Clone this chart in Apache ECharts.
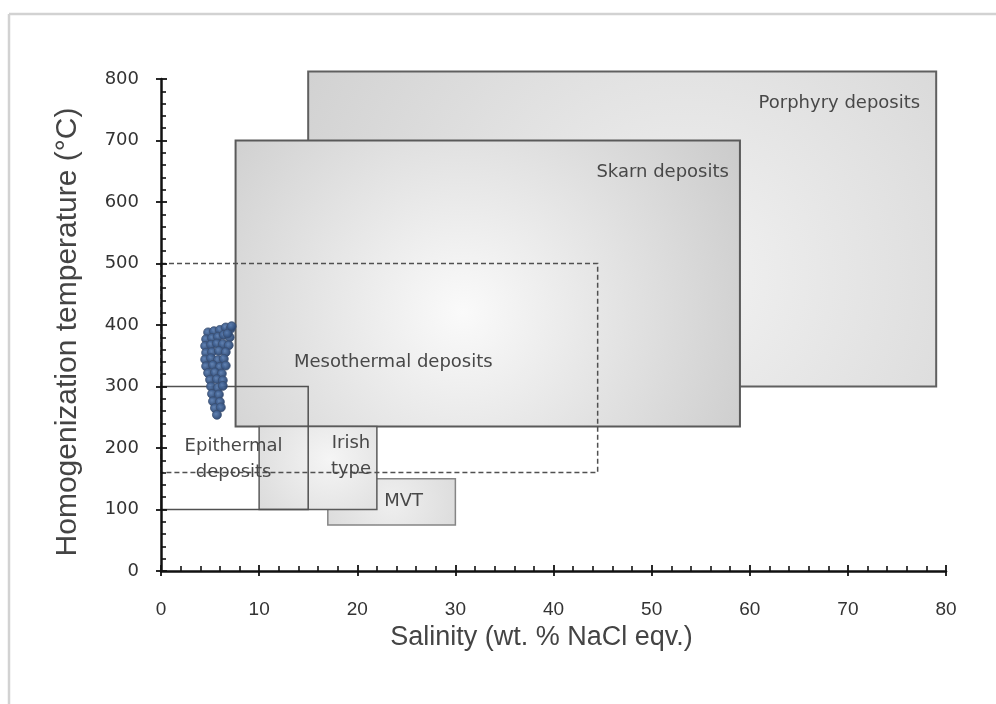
<!DOCTYPE html>
<html>
<head>
<meta charset="utf-8">
<script src="https://cdn.jsdelivr.net/npm/echarts@6/dist/echarts.min.js"></script>
<style>
html,body{margin:0;padding:0;background:#fff;}
#chart{width:996px;height:704px;}
</style>
</head>
<body>
<div id="chart"></div>
<script>
// ---- data ----
const boxNames    = ['Porphyry deposits', 'Skarn deposits', 'MVT', 'Irish\ntype', 'Mesothermal deposits', 'Epithermal\ndeposits'];
const boxSalMin   = [15, 7.6, 17, 10, 0, 0];
const boxSalMax   = [79, 59, 30, 22, 44.5, 15];
const boxTempMin  = [300, 235, 75, 100, 160, 100];
const boxTempMax  = [812, 700, 150, 235, 500, 300];

const inclSalinity = [4.8,5.4,6.0,6.6,7.1, 4.6,5.2,5.8,6.4,7.0, 4.5,5.1,5.7,6.3,6.9,
                      4.6,5.2,5.9,6.6, 4.5,5.1,5.8,6.4, 4.6,5.3,6.0,6.6, 4.8,5.5,6.2,
                      5.0,5.7,6.3, 5.1,5.8,6.3, 5.2,5.9, 5.3,6.0, 5.5,6.1, 5.7, 6.8, 7.2];
const inclTemp     = [388,390,392,396,394, 377,379,381,384,380, 366,368,370,369,367,
                      355,356,358,356, 344,346,343,345, 333,335,332,334, 322,323,321,
                      311,312,310, 300,298,301, 288,287, 276,275, 265,266, 254, 386, 398];

const xMin = 0, xMax = 80, xStep = 10;
const yMin = 0, yMax = 800, yStep = 100;

// ---- styles ----
function grad(cx, cy, r, c0, c1) {
  return new echarts.graphic.RadialGradient(cx, cy, r, [
    {offset: 0, color: c0}, {offset: 1, color: c1}
  ]);
}
const boxStyles = [
  {fill: grad(0.6, 0.65, 1.6, '#f2f2f2', '#cccccc'), stroke: '#606060', lw: 2, pos: 'insideTopRight', dist: 17, off: [0, 3]},
  {fill: grad(0.45, 0.6, 1.15, '#fafafa', '#cacaca'), stroke: '#5a5a5a', lw: 2, pos: 'insideTopRight', dist: 12, off: [0, 8]},
  {fill: grad(0.5, 0.5, 2.2, '#efefef', '#d2d2d2'), stroke: '#858585', lw: 1.5, pos: 'inside', off: [12, 0]},
  {fill: grad(0.6, 0.4, 1.3, '#f5f5f5', '#d4d4d4'), stroke: '#5a5a5a', lw: 1.5, pos: 'inside', off: [33, -12]},
  {fill: 'rgba(0,0,0,0)', stroke: '#505050', lw: 1.5, dash: [5, 3], pos: 'inside', off: [14, -6]},
  {fill: 'rgba(0,0,0,0)', stroke: '#505050', lw: 1.5, pos: 'inside', off: [-1, 11]}
];

const boxData = boxNames.map((n, i) => [boxSalMin[i], boxSalMax[i], boxTempMin[i], boxTempMax[i]]);
const pointData = inclSalinity.map((s, i) => [s, inclTemp[i]]);

function renderBox(params, api) {
  const i = params.dataIndex;
  const p1 = api.coord([api.value(0), api.value(3)]);
  const p2 = api.coord([api.value(1), api.value(2)]);
  const st = boxStyles[i];
  return {
    type: 'rect',
    shape: {x: p1[0], y: p1[1], width: p2[0] - p1[0], height: p2[1] - p1[1]},
    style: {fill: st.fill, stroke: st.stroke, lineWidth: st.lw, lineDash: st.dash || null},
    textContent: {
      style: {
        text: boxNames[i],
        fontFamily: 'DejaVu Sans',
        fontSize: 18,
        fill: '#484848',
        lineHeight: 26
      }
    },
    textConfig: {position: st.pos, distance: st.dist || 0, offset: st.off}
  };
}

const axisColor = '#111';
const chart = echarts.init(document.getElementById('chart'), null, {renderer: 'canvas'});
chart.setOption({
  backgroundColor: '#ffffff',
  animation: false,
  grid: {left: 161, right: 50, top: 79, bottom: 133, containLabel: false},
  graphic: [
    {type: 'line', shape: {x1: 9, y1: 14, x2: 996, y2: 14}, style: {stroke: '#d2d2d2', lineWidth: 2.5}, z: 0},
    {type: 'line', shape: {x1: 9, y1: 14, x2: 9, y2: 704}, style: {stroke: '#d2d2d2', lineWidth: 2.5}, z: 0}
  ],
  xAxis: [
    {
      type: 'value', min: xMin, max: xMax, interval: xStep, z: 5,
      name: 'Salinity (wt. % NaCl eqv.)', nameLocation: 'middle', nameGap: 35,
      nameTextStyle: {fontFamily: 'Liberation Sans', fontSize: 27, color: '#444', padding: [0, 24, 0, 0]},
      axisLine: {show: true, onZero: false, lineStyle: {color: axisColor, width: 2.5}},
      axisTick: {show: true, inside: true, length: 6, lineStyle: {color: axisColor, width: 1.8}},
      minorTick: {show: true, splitNumber: 5, length: 5, lineStyle: {color: axisColor, width: 1.6}},
      axisLabel: {margin: 29, fontFamily: 'Liberation Sans', fontSize: 19, color: '#333'},
      splitLine: {show: false}
    },
    {
      type: 'value', min: xMin, max: xMax, interval: xStep, position: 'bottom', z: 5,
      axisLine: {show: false},
      axisTick: {show: true, inside: false, length: 5, lineStyle: {color: axisColor, width: 1.8}},
      axisLabel: {show: false}, splitLine: {show: false}
    }
  ],
  yAxis: [
    {
      type: 'value', min: yMin, max: yMax, interval: yStep, z: 5,
      name: 'Homogenization temperature (°C)', nameLocation: 'middle', nameGap: 78, nameRotate: 90,
      nameTextStyle: {fontFamily: 'Liberation Sans', fontSize: 30, color: '#444', padding: [0, 14, 0, 0]},
      axisLine: {show: true, onZero: false, lineStyle: {color: axisColor, width: 2.5}},
      axisTick: {show: true, inside: true, length: 6, lineStyle: {color: axisColor, width: 1.8}},
      minorTick: {show: true, splitNumber: 5, length: 5, lineStyle: {color: axisColor, width: 1.6}},
      axisLabel: {margin: 22, fontFamily: 'DejaVu Sans', fontSize: 18, color: '#333'},
      splitLine: {show: false}
    },
    {
      type: 'value', min: yMin, max: yMax, interval: yStep, position: 'left', z: 5,
      axisLine: {show: false},
      axisTick: {show: true, inside: false, length: 5, lineStyle: {color: axisColor, width: 1.8}},
      axisLabel: {show: false}, splitLine: {show: false}
    }
  ],
  series: [
    {
      type: 'custom', name: 'Deposit fields', xAxisIndex: 0, yAxisIndex: 0,
      renderItem: renderBox, data: boxData, encode: {x: [0, 1], y: [2, 3]},
      clip: false, z: 2, silent: true
    },
    {
      type: 'scatter', name: 'Fluid inclusions', xAxisIndex: 0, yAxisIndex: 0,
      data: pointData, symbol: 'circle', symbolSize: 9, z: 3,
      itemStyle: {
        color: grad(0.4, 0.4, 0.7, '#5a7db0', '#1d3863'),
        borderColor: '#3b4f70', borderWidth: 0.8, opacity: 0.95
      }
    }
  ]
});
</script>
</body>
</html>
